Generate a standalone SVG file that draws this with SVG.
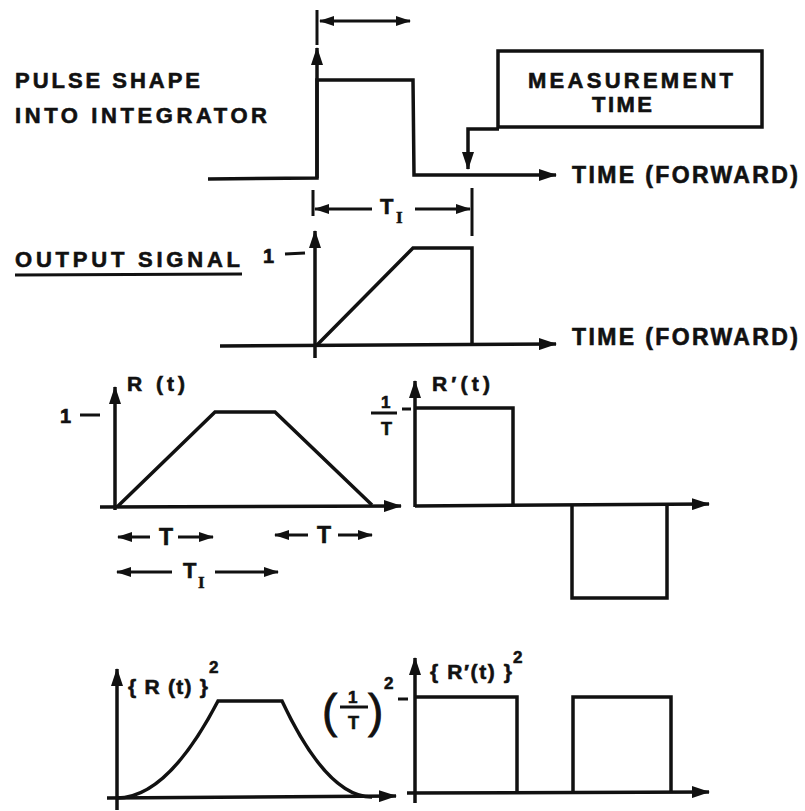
<svg xmlns="http://www.w3.org/2000/svg" width="805" height="811" viewBox="0 0 805 811">
<defs>
<style>
.ln{fill:none;stroke:#111;stroke-width:3.5;stroke-linejoin:miter;stroke-linecap:butt}
.th{fill:none;stroke:#111;stroke-width:3;stroke-linecap:butt}
.tx{font-family:"Liberation Sans",Arial,sans-serif;font-weight:bold;fill:#111;stroke:#111;stroke-width:0.6}
.pr{font-family:"Liberation Sans",Arial,sans-serif;fill:#111;stroke:#111;stroke-width:0.8}
.sf{font-family:"Liberation Serif","Times New Roman",serif;font-weight:bold;fill:#111;stroke:#111;stroke-width:0.5}
</style>
<marker id="ah" viewBox="0 0 18 12" refX="17" refY="6" markerWidth="18" markerHeight="12" markerUnits="userSpaceOnUse" orient="auto-start-reverse"><path d="M0,0 L18,6 L0,12 z" fill="#111"/></marker>
<marker id="as" viewBox="0 0 15 10" refX="14" refY="5" markerWidth="15" markerHeight="10" markerUnits="userSpaceOnUse" orient="auto-start-reverse"><path d="M0,0 L15,5 L0,10 z" fill="#111"/></marker>
</defs>
<rect width="805" height="811" fill="#fff"/>

<g id="title-pulse" class="tx" font-size="22">
<text x="15" y="88" textLength="185" lengthAdjust="spacing">PULSE SHAPE</text>
<text x="15" y="123" textLength="252" lengthAdjust="spacing">INTO INTEGRATOR</text>
</g>

<g id="measurement-time">
<rect x="498" y="51" width="264" height="76" class="ln"/>
<text class="tx" font-size="22" x="528" y="88" textLength="205" lengthAdjust="spacing">MEASUREMENT</text>
<text class="tx" font-size="22" x="592" y="112" textLength="60" lengthAdjust="spacing">TIME</text>
</g>

<g id="pulse-plot">
<line class="th" x1="317" y1="10" x2="317" y2="45"/>
<line class="th" x1="320" y1="21" x2="410" y2="21" marker-start="url(#as)" marker-end="url(#as)"/>
<path class="ln" d="M208,179 L317,178 L317,80 L413,80 L414,175 L470,175"/>
<line class="ln" x1="317" y1="178" x2="317" y2="48" marker-end="url(#ah)"/>
<line class="ln" x1="470" y1="175" x2="556" y2="175" marker-end="url(#ah)"/>
<text class="tx" font-size="23" x="572" y="183" textLength="226" lengthAdjust="spacing">TIME (FORWARD)</text>
</g>

<g id="output-signal">
<text class="tx" font-size="22" x="15" y="267" textLength="225" lengthAdjust="spacing">OUTPUT SIGNAL</text>
<line class="th" x1="15" y1="275" x2="242" y2="274"/>
<line class="th" x1="313" y1="190" x2="313" y2="216"/>
<line class="th" x1="472" y1="188" x2="472" y2="236"/>
<line class="th" x1="372" y1="209" x2="315" y2="209" marker-end="url(#as)"/>
<line class="th" x1="415" y1="209" x2="470" y2="209" marker-end="url(#as)"/>
<text class="tx" font-size="22" x="380" y="214">T</text>
<text class="sf" font-size="17" x="396" y="223">I</text>
<text class="tx" font-size="20" x="263" y="263">1</text>
<line class="th" x1="285" y1="254" x2="305" y2="253"/>
<line class="ln" x1="315" y1="358" x2="315" y2="231" marker-end="url(#ah)"/>
<path class="ln" d="M317,345 L413,248 L472,248 L472,343"/>
<line class="ln" x1="220" y1="346" x2="556" y2="344" marker-end="url(#ah)"/>
<text class="tx" font-size="23" x="572" y="345" textLength="226" lengthAdjust="spacing">TIME (FORWARD)</text>
</g>

<g id="r-plot">
<text class="tx" font-size="21" x="127" y="391" textLength="58" lengthAdjust="spacing">R (t)</text>
<text class="tx" font-size="20" x="60" y="423">1</text>
<line class="th" x1="80" y1="415" x2="100" y2="415"/>
<line class="ln" x1="115" y1="510" x2="115" y2="387" marker-end="url(#ah)"/>
<line class="ln" x1="100" y1="507" x2="401" y2="506" marker-end="url(#ah)"/>
<path class="ln" d="M117,507 L215,412 L275,412 L372,505"/>
<line class="th" x1="150" y1="537" x2="118" y2="537" marker-end="url(#as)"/>
<text class="tx" font-size="23" x="159" y="545">T</text>
<line class="th" x1="178" y1="537" x2="213" y2="537" marker-end="url(#as)"/>
<line class="th" x1="308" y1="535" x2="275" y2="535" marker-end="url(#as)"/>
<text class="tx" font-size="23" x="317" y="543">T</text>
<line class="th" x1="338" y1="535" x2="372" y2="535" marker-end="url(#as)"/>
<line class="th" x1="172" y1="572" x2="117" y2="572" marker-end="url(#as)"/>
<text class="tx" font-size="22" x="183" y="578">T</text>
<text class="sf" font-size="17" x="198" y="588">I</text>
<line class="th" x1="215" y1="572" x2="278" y2="572" marker-end="url(#as)"/>
</g>

<g id="rprime-plot">
<text class="tx" font-size="21" x="432" y="391" textLength="58" lengthAdjust="spacing">R′(t)</text>
<text class="tx" font-size="17" x="381" y="408">1</text>
<line class="th" x1="371" y1="413" x2="397" y2="413"/>
<text class="tx" font-size="18" x="381" y="435">T</text>
<line class="th" x1="402" y1="409" x2="411" y2="409"/>
<line class="ln" x1="415" y1="507" x2="415" y2="381" marker-end="url(#ah)"/>
<line class="ln" x1="415" y1="506" x2="709" y2="504" marker-end="url(#ah)"/>
<path class="ln" d="M415,408 L513,408 L513,505"/>
<path class="ln" d="M572,505 L572,598 L667,598 L667,505"/>
</g>

<g id="r-squared-plot">
<text class="tx" font-size="21" x="128" y="694" textLength="80" lengthAdjust="spacing">{ R (t) }</text>
<text class="tx" font-size="17" x="209" y="673">2</text>
<line class="ln" x1="117" y1="810" x2="117" y2="669" marker-end="url(#ah)"/>
<line class="ln" x1="107" y1="798" x2="396" y2="796" marker-end="url(#ah)"/>
<path class="ln" d="M117,798 Q167.5,798 218,701 L282,701 Q327,797 372,797"/>
<text class="pr" font-size="46" x="322" y="727">(</text>
<text class="tx" font-size="17" x="348" y="703">1</text>
<line class="th" x1="340" y1="707" x2="368" y2="707"/>
<text class="tx" font-size="18" x="348" y="729">T</text>
<text class="pr" font-size="46" x="368" y="727">)</text>
<text class="tx" font-size="17" x="384" y="689">2</text>
<line class="th" x1="398" y1="699" x2="408" y2="699"/>
</g>

<g id="rprime-squared-plot">
<text class="tx" font-size="21" x="430" y="679" textLength="82" lengthAdjust="spacing">{ R′(t) }</text>
<text class="tx" font-size="17" x="513" y="663">2</text>
<line class="ln" x1="415" y1="803" x2="415" y2="658" marker-end="url(#ah)"/>
<line class="ln" x1="407" y1="793" x2="709" y2="792" marker-end="url(#ah)"/>
<path class="ln" d="M415,697 L517,697 L517,793"/>
<path class="ln" d="M573,793 L573,697 L671,697 L671,793"/>
</g>

<g id="connectors">
<path class="ln" d="M499,129 L468,129 L468,169" marker-end="url(#ah)"/>
</g>
</svg>
